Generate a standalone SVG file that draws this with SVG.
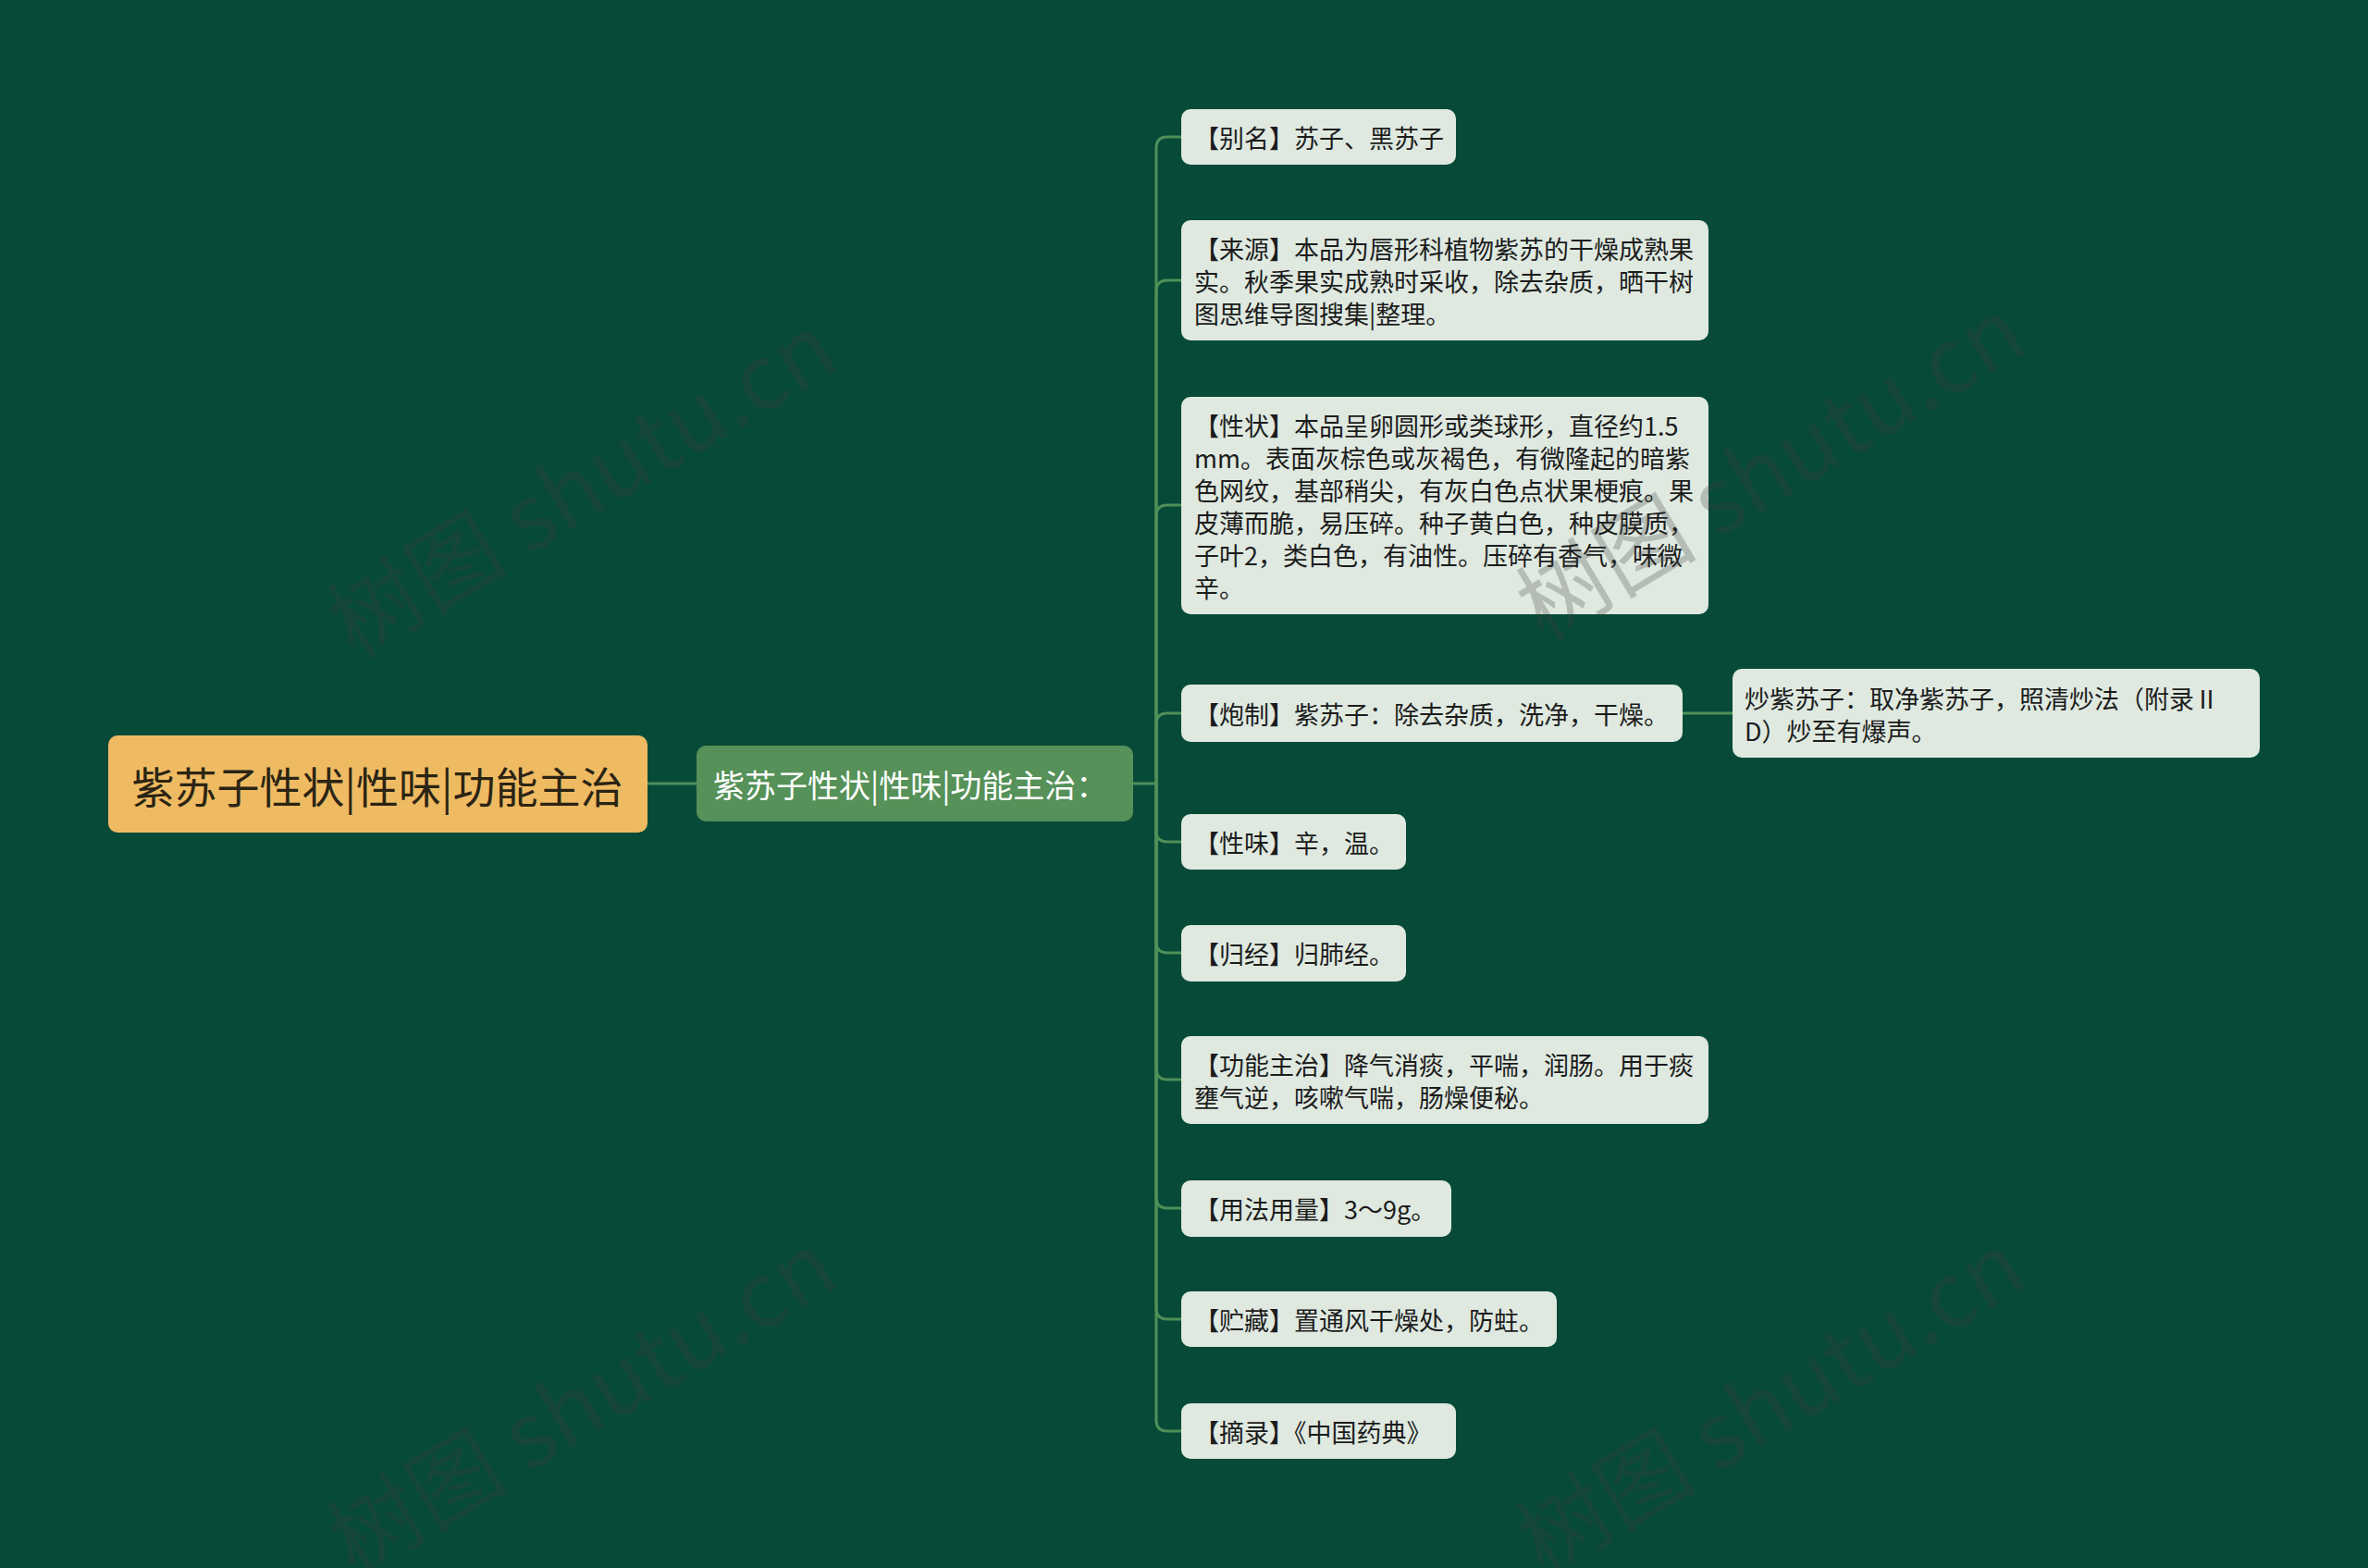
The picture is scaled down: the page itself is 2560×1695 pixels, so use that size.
<svg xmlns="http://www.w3.org/2000/svg" width="2560" height="1695" viewBox="0 0 2560 1695">
<style>
.leaf rect{fill:#dfe9e0;}
.leaf text{font-family:"Noto Sans CJK SC","Noto Sans",sans-serif;font-size:27px;fill:#1c1c1c;dominant-baseline:central;}
.conn path{fill:none;stroke:#4f9058;stroke-width:3;}
.wm{font-family:"Noto Sans CJK SC","Noto Sans",sans-serif;font-size:98px;fill:#3e3e3e;opacity:0.26;}
</style>
<rect x="0" y="0" width="2560" height="1695" fill="#074a38"/>
<g id="connectors" class="conn">
<path d="M700,847 H753"/>
<path d="M1225,847 H1250 V160 Q1250,148 1262,148 H1278"/>
<path d="M1250,847 V315 Q1250,303 1262,303 H1278"/>
<path d="M1250,847 V558 Q1250,546 1262,546 H1278"/>
<path d="M1250,847 V783 Q1250,771 1262,771 H1278"/>
<path d="M1250,847 V898 Q1250,910 1262,910 H1278"/>
<path d="M1250,847 V1018 Q1250,1030 1262,1030 H1278"/>
<path d="M1250,847 V1155 Q1250,1167 1262,1167 H1278"/>
<path d="M1250,847 V1294 Q1250,1306 1262,1306 H1278"/>
<path d="M1250,847 V1414 Q1250,1426 1262,1426 H1278"/>
<path d="M1250,847 V1535 Q1250,1547 1262,1547 H1278"/>
<path d="M1819,771 H1874"/>
</g>
<g id="root">
<rect x="117" y="795" width="583" height="105" rx="10" fill="#efbb62"/>
<text x="408" y="848" text-anchor="middle" dominant-baseline="central" font-family="Noto Sans CJK SC,Noto Sans,sans-serif" font-size="46" fill="#2b2414">紫苏子性状|性味|功能主治</text>
</g>
<g id="mid">
<rect x="753" y="806" width="472" height="82" rx="10" fill="#559158"/>
<text x="771" y="847" dominant-baseline="central" font-family="Noto Sans CJK SC,Noto Sans,sans-serif" font-size="34" fill="#ffffff">紫苏子性状|性味|功能主治：</text>
</g>
<g id="n-bieming" class="leaf"><rect x="1277" y="118" width="297" height="60" rx="10"/><text x="1291" y="148">【别名】苏子、黑苏子</text></g>
<g id="n-laiyuan" class="leaf"><rect x="1277" y="238" width="570" height="130" rx="10"/>
<text x="1291" y="268">【来源】本品为唇形科植物紫苏的干燥成熟果</text>
<text x="1291" y="303">实。秋季果实成熟时采收，除去杂质，晒干树</text>
<text x="1291" y="338">图思维导图搜集|整理。</text></g>
<g id="n-xingzhuang" class="leaf"><rect x="1277" y="429" width="570" height="235" rx="10"/>
<text x="1291" y="459">【性状】本品呈卵圆形或类球形，直径约1.5</text>
<text x="1291" y="494">mm。表面灰棕色或灰褐色，有微隆起的暗紫</text>
<text x="1291" y="529">色网纹，基部稍尖，有灰白色点状果梗痕。果</text>
<text x="1291" y="564">皮薄而脆，易压碎。种子黄白色，种皮膜质，</text>
<text x="1291" y="599">子叶2，类白色，有油性。压碎有香气，味微</text>
<text x="1291" y="634">辛。</text></g>
<g id="n-paozhi" class="leaf"><rect x="1277" y="740" width="542" height="62" rx="10"/><text x="1291" y="771">【炮制】紫苏子：除去杂质，洗净，干燥。</text></g>
<g id="n-chao" class="leaf"><rect x="1873" y="723" width="570" height="96" rx="10"/>
<text x="1886" y="754">炒紫苏子：取净紫苏子，照清炒法（附录Ⅱ</text>
<text x="1886" y="789">D）炒至有爆声。</text></g>
<g id="n-xingwei" class="leaf"><rect x="1277" y="880" width="243" height="60" rx="10"/><text x="1291" y="910">【性味】辛，温。</text></g>
<g id="n-guijing" class="leaf"><rect x="1277" y="1000" width="243" height="61" rx="10"/><text x="1291" y="1030">【归经】归肺经。</text></g>
<g id="n-gongneng" class="leaf"><rect x="1277" y="1120" width="570" height="95" rx="10"/>
<text x="1291" y="1150">【功能主治】降气消痰，平喘，润肠。用于痰</text>
<text x="1291" y="1185">壅气逆，咳嗽气喘，肠燥便秘。</text></g>
<g id="n-yongfa" class="leaf"><rect x="1277" y="1276" width="292" height="61" rx="10"/><text x="1291" y="1306">【用法用量】3～9g。</text></g>
<g id="n-zhucang" class="leaf"><rect x="1277" y="1396" width="406" height="60" rx="10"/><text x="1291" y="1426">【贮藏】置通风干燥处，防蛀。</text></g>
<g id="n-zhailu" class="leaf"><rect x="1277" y="1517" width="297" height="60" rx="10"/><text x="1291" y="1547">【摘录】《中国药典》</text></g>
<g id="watermarks">
<text class="wm" x="625" y="518" text-anchor="middle" dominant-baseline="central" transform="rotate(-31 625 518)">树图 shutu.cn</text>
<text class="wm" x="1910" y="500" text-anchor="middle" dominant-baseline="central" transform="rotate(-31 1910 500)">树图 shutu.cn</text>
<text class="wm" x="625" y="1510" text-anchor="middle" dominant-baseline="central" transform="rotate(-31 625 1510)">树图 shutu.cn</text>
<text class="wm" x="1910" y="1510" text-anchor="middle" dominant-baseline="central" transform="rotate(-31 1910 1510)">树图 shutu.cn</text>
</g>
</svg>
